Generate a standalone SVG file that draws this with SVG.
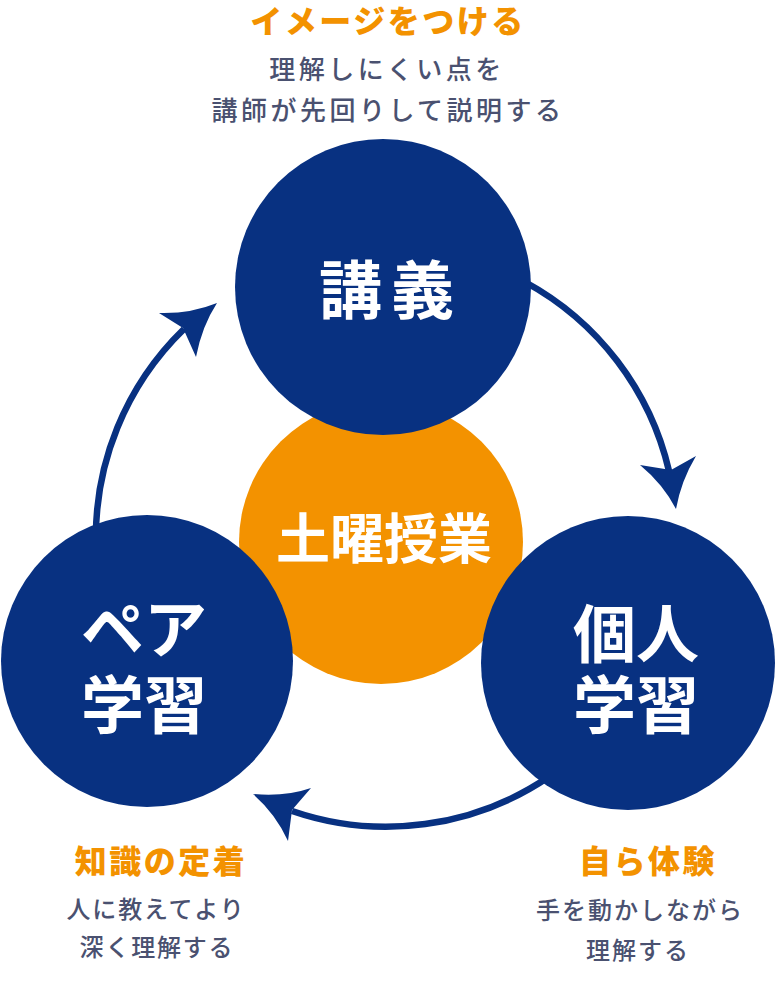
<svg xmlns="http://www.w3.org/2000/svg" width="775" height="990" viewBox="0 0 775 990">
<style>
.blue{fill:#083181}
.orange{fill:#f39200}
.arc{fill:none;stroke:#083181;stroke-width:6.5}
.head{fill:#083181}
text{font-family:"Noto Sans CJK JP","Noto Sans",sans-serif;text-anchor:middle}
.big{fill:#ffffff;font-weight:700}
.ttl{fill:#f39200;font-weight:900;font-size:32px;letter-spacing:2.5px}
.body{fill:#4a5170;font-weight:500}
</style>
<rect width="775" height="990" fill="#ffffff"/>
<g id="connectors">
<path class="arc" d="M96 545 A290 290 0 0 1 184 329"/>
<path class="head" d="M217 303 Q190 314 159 313 L183 328 L196 357 Q202 326 217 303 Z"/>
<path class="arc" d="M525 282 A290 290 0 0 1 669 471"/>
<path class="head" d="M676 509 Q663 484 640 465 L671 470 L696 456 Q681 481 676 509 Z"/>
<path class="arc" d="M550 776 A290 290 0 0 1 292 811"/>
<path class="head" d="M253 794 Q285 797 311 788 L292 810 L288 841 Q276 814 253 794 Z"/>
</g>
<g id="center">
<circle class="orange" cx="381" cy="542" r="142"/>
<text class="big" x="384" y="559" font-size="54">土曜授業</text>
</g>
<g id="lecture">
<circle class="blue" cx="383" cy="287" r="148"/>
<text class="big" x="391" y="313" font-size="63" letter-spacing="9">講義</text>
</g>
<g id="pair">
<circle class="blue" cx="147" cy="661" r="146"/>
<text class="big" x="144" y="652" font-size="63">ペア</text>
<text class="big" x="144" y="728" font-size="63">学習</text>
</g>
<g id="individual">
<circle class="blue" cx="628" cy="663" r="147"/>
<text class="big" x="636" y="657" font-size="63">個人</text>
<text class="big" x="636" y="728" font-size="63">学習</text>
</g>
<g id="label-top">
<text class="ttl" x="388" y="33">イメージをつける</text>
<text class="body" x="387" y="79" font-size="26" letter-spacing="3.5">理解しにくい点を</text>
<text class="body" x="388" y="120" font-size="26" letter-spacing="3.5">講師が先回りして説明する</text>
</g>
<g id="label-left">
<text class="ttl" x="161" y="873">知識の定着</text>
<text class="body" x="156" y="918" font-size="24" letter-spacing="1.8">人に教えてより</text>
<text class="body" x="157" y="956" font-size="24" letter-spacing="1.8">深く理解する</text>
</g>
<g id="label-right">
<text class="ttl" x="648" y="873">自ら体験</text>
<text class="body" x="640" y="919" font-size="24" letter-spacing="2">手を動かしながら</text>
<text class="body" x="638" y="959" font-size="24" letter-spacing="2">理解する</text>
</g>
</svg>
